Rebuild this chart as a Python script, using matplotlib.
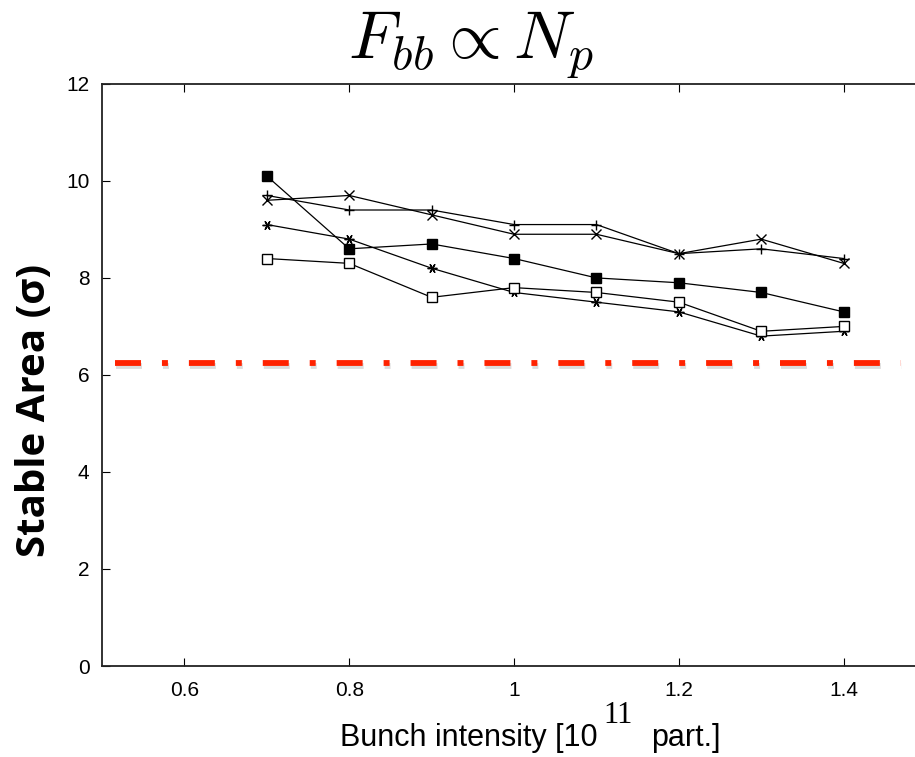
import matplotlib
matplotlib.use('Agg')
import matplotlib.pyplot as plt
import matplotlib.patheffects as pe

plt.rcParams['mathtext.fontset'] = 'cm'
plt.rcParams['font.family'] = ['Liberation Sans Narrow', 'Liberation Sans', 'DejaVu Sans']

# bunch intensity [1e11 p]
x = [0.7, 0.8, 0.9, 1.0, 1.1, 1.2, 1.3, 1.4]
filled_sq = [10.1, 8.6, 8.7, 8.4, 8.0, 7.9, 7.7, 7.3]
plus = [9.7, 9.4, 9.4, 9.1, 9.1, 8.5, 8.6, 8.4]
cross = [9.6, 9.7, 9.3, 8.9, 8.9, 8.5, 8.8, 8.3]
aster = [9.1, 8.8, 8.2, 7.7, 7.5, 7.3, 6.8, 6.9]
open_sq = [8.4, 8.3, 7.6, 7.8, 7.7, 7.5, 6.9, 7.0]
limit_y = 6.25
limit_x = [0.516, 1.47]

W, H = 915, 757
fig = plt.figure(figsize=(W / 100, H / 100), dpi=100)
ax = fig.add_axes([0.1115, 0.1202, 0.9006, 0.769])

kw = dict(color='black', lw=0.9, ms=7)
ax.plot(x, filled_sq, marker='s', mfc='black', **kw)
ax.plot(x, plus, marker='+', mew=1.0, **kw)
ax.plot(x, cross, marker='x', mew=1.0, **kw)
ax.plot(x, aster, marker=(6, 2, 90), mew=1.0, **kw)
ax.plot(x, open_sq, marker='s', mfc='white', mew=1.0, **kw)

# red limit line (dash-dot, with soft shadow)
lw = 4.2
red, = ax.plot(limit_x, [limit_y, limit_y], color='#ff2200', lw=lw, clip_on=False,
               solid_capstyle='butt', dash_capstyle='butt')
red.set_dashes([18.7 / lw, 15.1 / lw, 4.3 / lw, 15.1 / lw])
red.set_path_effects([pe.SimpleLineShadow(offset=(0.6, -2.2), shadow_color='#777777', alpha=0.25),
                      pe.Normal()])

ax.set_xlim(0.5, 1.5)
ax.set_ylim(0, 12)
ax.set_xticks([0.6, 0.8, 1.0, 1.2, 1.4])
ax.set_xticklabels(['0.6', '0.8', '1', '1.2', '1.4'])
ax.set_yticks([0, 2, 4, 6, 8, 10, 12])
ax.tick_params(axis='x', direction='in', top=True, length=6, width=0.8, labelsize=15, pad=11)
ax.tick_params(axis='y', direction='in', length=6, width=0.8, labelsize=15, pad=9)
for s in ax.spines.values():
    s.set_linewidth(1.3)
    s.set_color('#222222')

# y label
fig.text(35 / W, 1 - 410 / H, 'Stable Area (σ)', rotation=90, fontsize=29, fontweight='bold',
         family=['Open Sans', 'DejaVu Sans'], ha='center', va='center')

# x label in pieces (superscript in serif, same size as the text)
fs = 22
base = 1 - 746 / H
t1 = fig.text(0, base, 'Bunch intensity [10', fontsize=fs, ha='left', va='baseline')
t2 = fig.text(0, 1 - 723 / H, '11', fontsize=fs, family=['Liberation Serif', 'DejaVu Serif'],
              ha='left', va='baseline')
t3 = fig.text(0, base, 'part.]', fontsize=fs, ha='left', va='baseline')
r = fig.canvas.get_renderer()
w1 = t1.get_window_extent(r).width
w2 = t2.get_window_extent(r).width
w3 = t3.get_window_extent(r).width
gap_a, gap_b = 6, 18
total = w1 + gap_a + w2 + gap_b + w3
x0 = 530 - total / 2
t1.set_x(x0 / W)
t2.set_x((x0 + w1 + gap_a) / W)
t3.set_x((x0 + w1 + gap_a + w2 + gap_b) / W)

fig.text(471 / W, 1 - 45 / H, r'$F_{bb} \propto N_p$', fontsize=49, ha='center', va='center')

fig.savefig('out.png', dpi=100)
